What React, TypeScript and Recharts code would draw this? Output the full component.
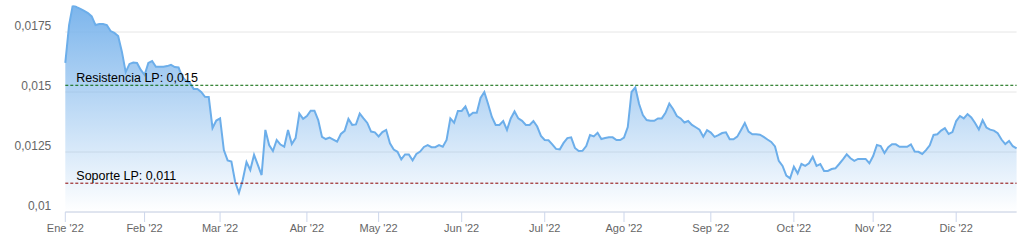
import React from 'react';
import { AreaChart, Area, XAxis, YAxis, CartesianGrid, ReferenceLine } from 'recharts';

const monthLabels = ["Ene '22", "Feb '22", "Mar '22", "Abr '22", "May '22", "Jun '22", "Jul '22", "Ago '22", "Sep '22", "Oct '22", "Nov '22", "Dic '22"];

const ene = [0.01621, 0.01779, 0.01863, 0.01854, 0.01846, 0.01838, 0.01829, 0.01815, 0.01779, 0.01783, 0.01783, 0.01779, 0.01754, 0.01746, 0.01733, 0.01667, 0.01583, 0.01617, 0.01623, 0.01621, 0.01592];
const feb = [0.01571, 0.01621, 0.01629, 0.01605, 0.01605, 0.01605, 0.01608, 0.01613, 0.01604, 0.01602, 0.01563, 0.01546, 0.01538, 0.01513, 0.01513, 0.01500, 0.01480, 0.01479, 0.01350, 0.01381];
const mar = [0.01390, 0.01258, 0.01215, 0.01210, 0.01125, 0.01080, 0.01133, 0.01208, 0.01175, 0.01238, 0.01196, 0.01154, 0.01342, 0.01279, 0.01254, 0.01300, 0.01281, 0.01272, 0.01342, 0.01283, 0.01308, 0.01410, 0.01388];
const abr = [0.01400, 0.01422, 0.01422, 0.01383, 0.01313, 0.01304, 0.01310, 0.01302, 0.01293, 0.01325, 0.01338, 0.01388, 0.01363, 0.01365, 0.01410, 0.01390, 0.01371, 0.01335, 0.01332];
const may = [0.01315, 0.01333, 0.01342, 0.01286, 0.01260, 0.01251, 0.01219, 0.01240, 0.01240, 0.01215, 0.01242, 0.01252, 0.01271, 0.01279, 0.01270, 0.01270, 0.01279, 0.01272, 0.01300, 0.01390, 0.01372, 0.01421];
const jun = [0.01421, 0.01440, 0.01401, 0.01414, 0.01414, 0.01475, 0.01500, 0.01450, 0.01396, 0.01363, 0.01363, 0.01379, 0.01342, 0.01390, 0.01419, 0.01390, 0.01380, 0.01363, 0.01363, 0.01379, 0.01356, 0.01317];
const jul = [0.01300, 0.01299, 0.01282, 0.01263, 0.01261, 0.01288, 0.01308, 0.01311, 0.01267, 0.01254, 0.01255, 0.01275, 0.01321, 0.01315, 0.01330, 0.01304, 0.01308, 0.01311, 0.01311, 0.01300, 0.01300];
const ago = [0.01310, 0.01354, 0.01500, 0.01519, 0.01450, 0.01404, 0.01383, 0.01380, 0.01380, 0.01390, 0.01390, 0.01413, 0.01452, 0.01429, 0.01400, 0.01390, 0.01373, 0.01379, 0.01363, 0.01353, 0.01343, 0.01314, 0.01341];
const sep = [0.01331, 0.01313, 0.01320, 0.01329, 0.01332, 0.01303, 0.01303, 0.01314, 0.01342, 0.01371, 0.01335, 0.01324, 0.01324, 0.01322, 0.01313, 0.01302, 0.01292, 0.01273, 0.01213, 0.01192, 0.01152, 0.01140];
const oct = [0.01189, 0.01161, 0.01200, 0.01192, 0.01203, 0.01230, 0.01192, 0.01200, 0.01171, 0.01171, 0.01179, 0.01182, 0.01200, 0.01219, 0.01240, 0.01224, 0.01213, 0.01221, 0.01221, 0.01221, 0.01203];
const nov = [0.01233, 0.01279, 0.01275, 0.01246, 0.01270, 0.01282, 0.01282, 0.01272, 0.01272, 0.01272, 0.01282, 0.01252, 0.01251, 0.01242, 0.01258, 0.01278, 0.01321, 0.01324, 0.01339, 0.01349, 0.01325, 0.01333];
const dic = [0.01379, 0.01400, 0.01390, 0.01408, 0.01394, 0.01371, 0.01344, 0.01383, 0.01352, 0.01343, 0.01339, 0.01328, 0.01302, 0.01283, 0.01296, 0.01274, 0.01265];

const yTicks = [0.01, 0.0125, 0.015, 0.0175];
const yDomain = [0.01, 0.0186];

const resistanceValue = 0.01528;
const resistanceLabel = 'Resistencia LP: 0,015';
const supportValue = 0.0112;
const supportLabel = 'Soporte LP: 0,011';

const monthSeries = [ene, feb, mar, abr, may, jun, jul, ago, sep, oct, nov, dic];

const data = monthSeries.flat().map((v, i) => ({ i, v }));
const monthStarts: number[] = [];
{
  let acc = 0;
  for (const m of monthSeries) {
    monthStarts.push(acc);
    acc += m.length;
  }
}

const FONT = '"Liberation Sans", Arial, Helvetica, sans-serif';

const YTick = (props: any) => {
  const { x, y, payload } = props;
  return (
    <text x={x} y={y - 6.5} dy="0.35em" textAnchor="end" fill="#666666" fontSize={12} fontFamily={FONT}>
      {String(payload.value).replace('.', ',')}
    </text>
  );
};

const XTick = (props: any) => {
  const { x, y, payload } = props;
  const idx = monthStarts.indexOf(payload.value);
  return (
    <text x={x} y={y} dy="0.71em" textAnchor="middle" fill="#666666" fontSize={11} fontFamily={FONT}>
      {idx >= 0 ? monthLabels[idx] : ''}
    </text>
  );
};

const makeRefLabel = (text: string) => (props: any) => {
  const vb = props.viewBox || {};
  return (
    <text x={(vb.x ?? 0) + 11} y={(vb.y ?? 0) - 3.5} fill="#000000" fontSize={12.5} fontFamily={FONT}>
      {text}
    </text>
  );
};

export default function App() {
  return (
    <div style={{ position: 'absolute', left: 0, top: 0, width: 1019, height: 246, background: '#ffffff' }}>
      <AreaChart width={1019} height={246} data={data} margin={{ top: 5.6, right: 2.4, bottom: 0, left: 0 }}>
        <defs>
          <linearGradient id="areaGrad" x1="0" y1="0" x2="0" y2="1">
            <stop offset="0%" stopColor="#7cb5ec" stopOpacity={1} />
            <stop offset="100%" stopColor="#7cb5ec" stopOpacity={0} />
          </linearGradient>
        </defs>
        <CartesianGrid vertical={false} horizontalValues={yTicks} stroke="#e6e6e6" />
        <XAxis
          type="number"
          dataKey="i"
          domain={[0, data.length - 1]}
          ticks={monthStarts}
          interval={0}
          height={34}
          tickSize={10}
          tickMargin={2}
          axisLine={{ stroke: '#ccd6eb' }}
          tickLine={{ stroke: '#ccd6eb' }}
          tick={<XTick />}
        />
        <YAxis
          type="number"
          domain={yDomain}
          ticks={yTicks}
          allowDataOverflow
          width={65.3}
          axisLine={false}
          tickLine={false}
          tickSize={0}
          tickMargin={14}
          tick={<YTick />}
        />
        <Area
          type="linear"
          dataKey="v"
          stroke="#6caeea"
          strokeWidth={2}
          fill="url(#areaGrad)"
          fillOpacity={1}
          dot={false}
          activeDot={false}
          isAnimationActive={false}
        />
        <ReferenceLine y={resistanceValue} stroke="#006400" strokeDasharray="3 2" strokeWidth={1} label={makeRefLabel(resistanceLabel)} />
        <ReferenceLine y={supportValue} stroke="#8b0000" strokeDasharray="3 2" strokeWidth={1} label={makeRefLabel(supportLabel)} />
      </AreaChart>
    </div>
  );
}
